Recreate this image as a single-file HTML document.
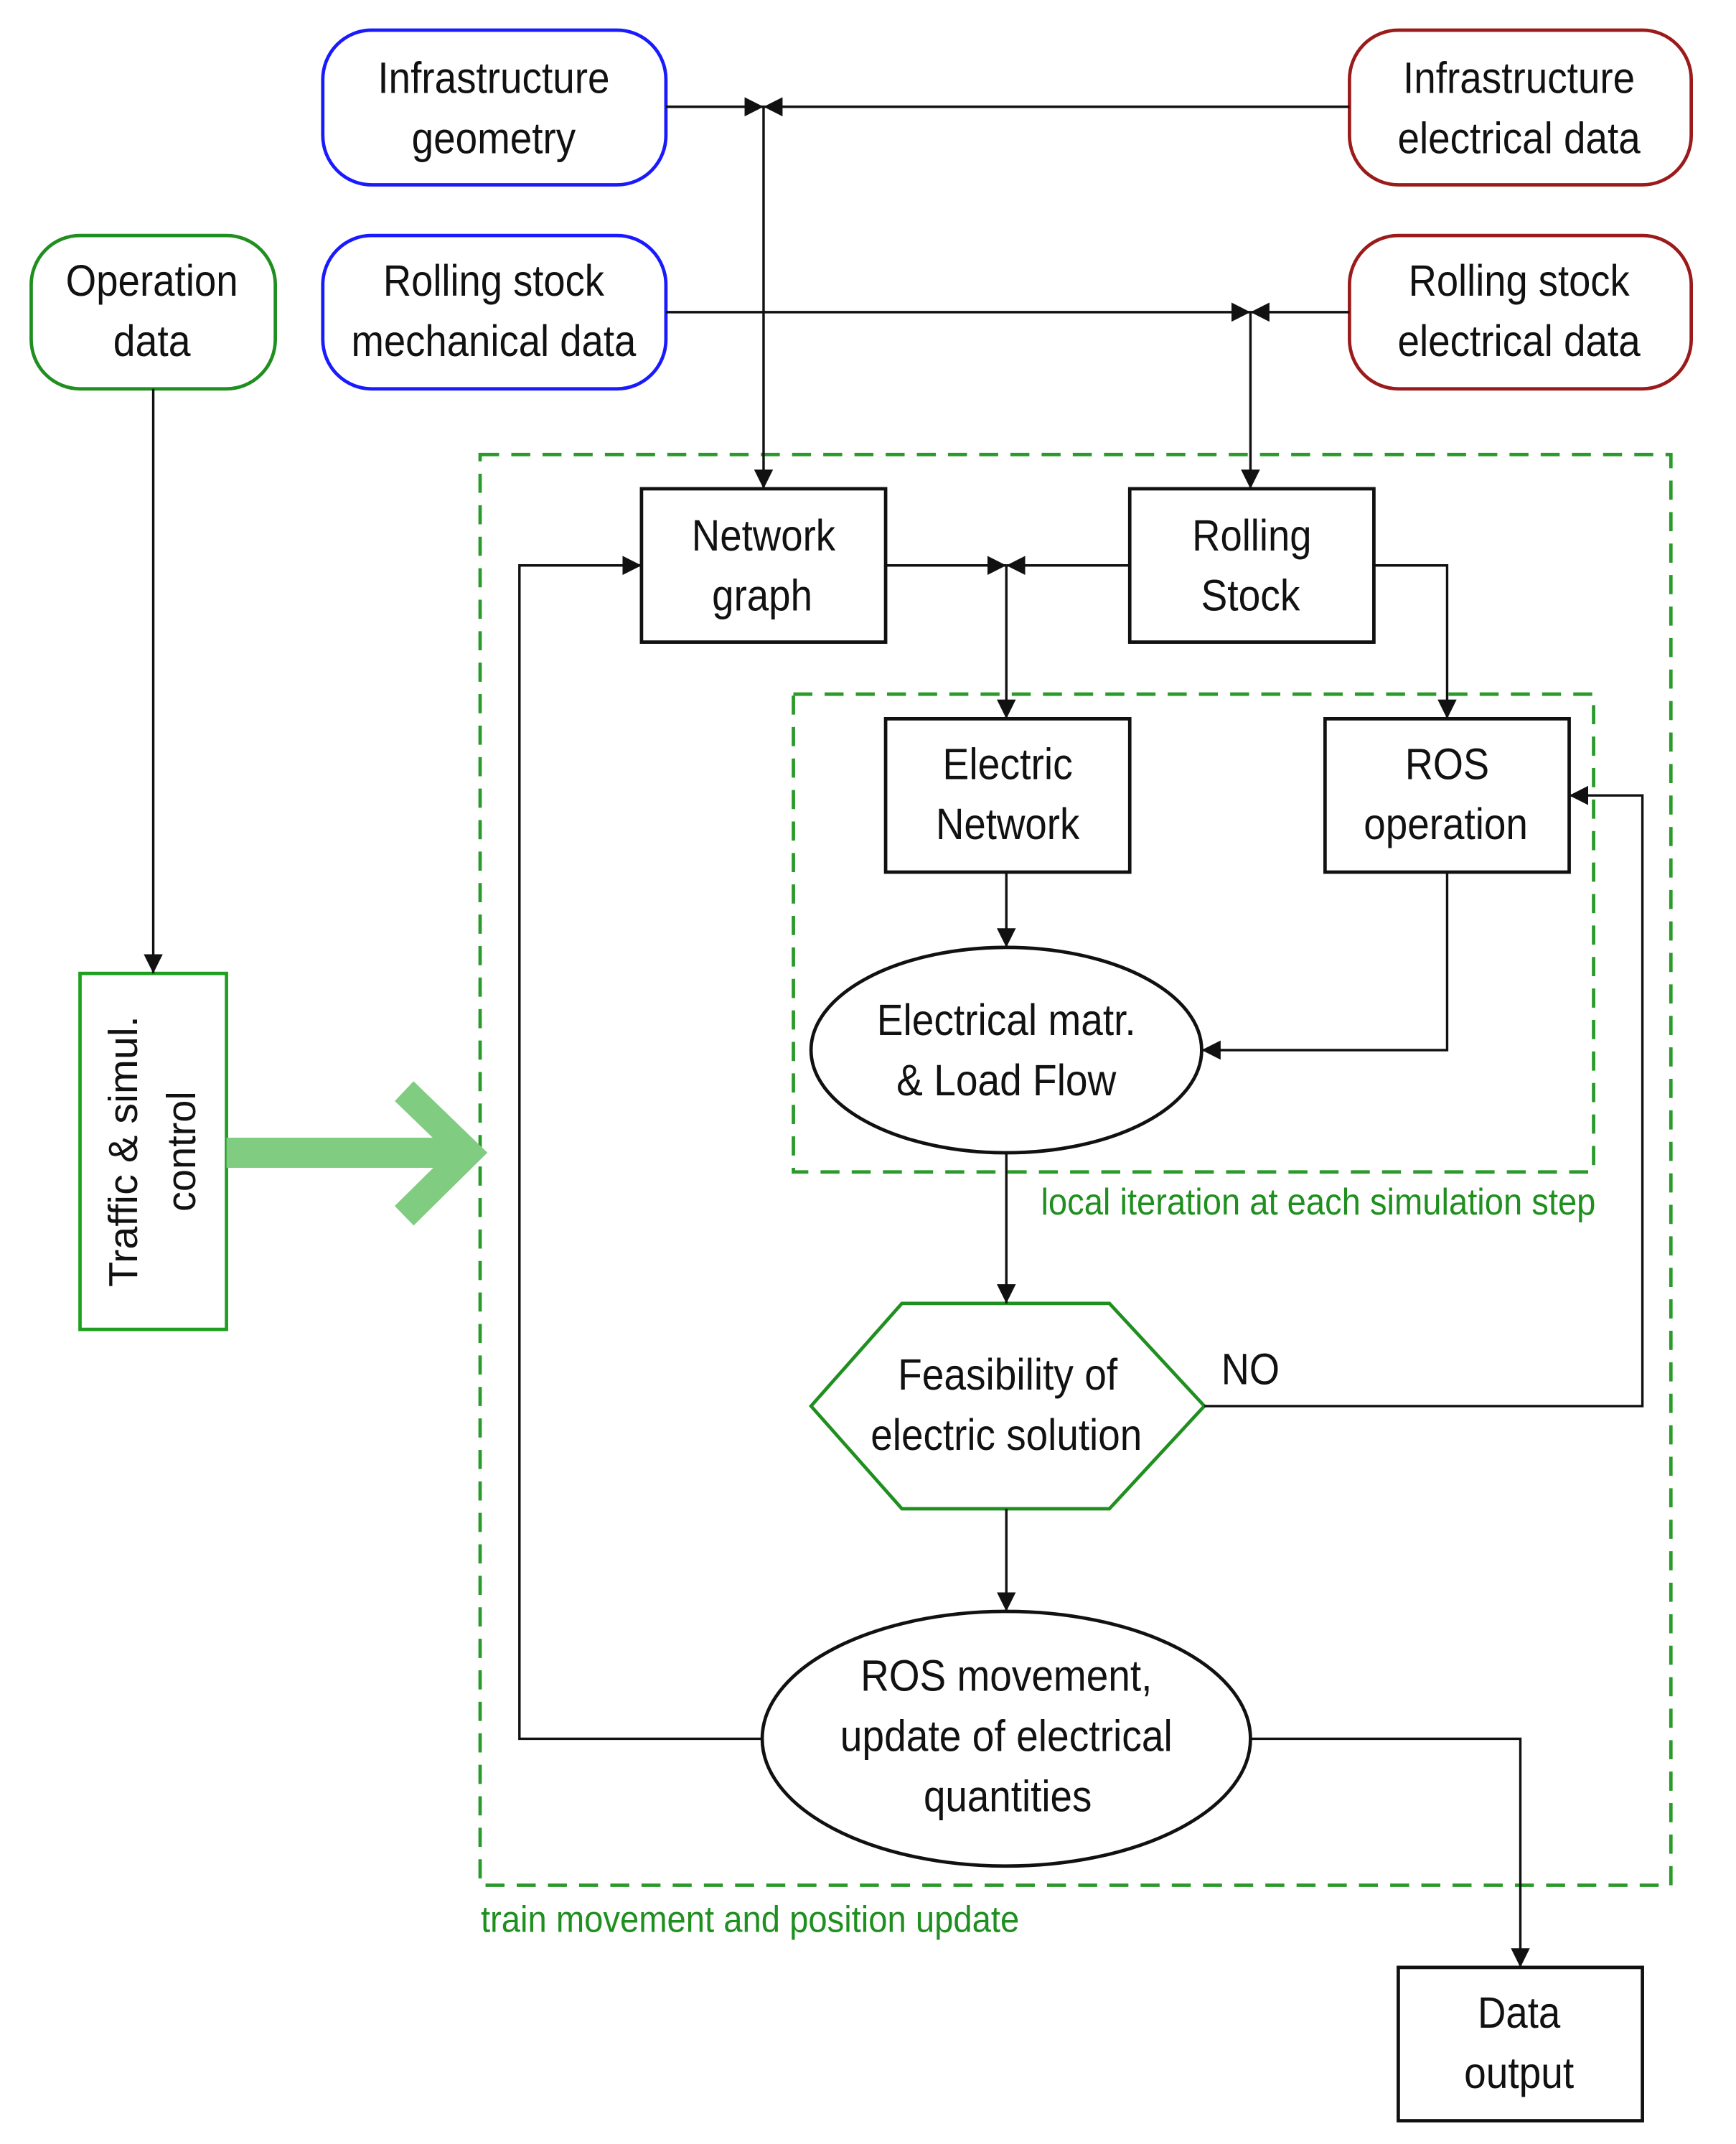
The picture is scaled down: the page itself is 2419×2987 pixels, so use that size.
<!DOCTYPE html>
<html><head><meta charset="utf-8"><style>html,body{margin:0;padding:0;background:#fff}svg{display:block}text{font-family:"Liberation Sans Narrow","Liberation Sans",sans-serif;font-size:32px;fill:#111;text-anchor:middle}</style></head>
<body>
<svg width="2419" height="2987" viewBox="0 0 1280 1566" preserveAspectRatio="none" xmlns="http://www.w3.org/2000/svg">
<defs>
<marker id="a" viewBox="0 0 10 10" refX="10" refY="5" markerWidth="14" markerHeight="14" markerUnits="userSpaceOnUse" orient="auto"><path d="M0,0L10,5L0,10z" fill="#111"/></marker>
</defs>
<g fill="none" stroke-width="2.5">
<rect x="238" y="22" width="253" height="113" rx="36" stroke="#1a1aff"/>
<rect x="238" y="172" width="253" height="112" rx="36" stroke="#1a1aff"/>
<rect x="995" y="22" width="252" height="113" rx="36" stroke="#9b1b1b"/>
<rect x="995" y="172" width="252" height="112" rx="36" stroke="#9b1b1b"/>
<rect x="23" y="172" width="180" height="112" rx="36" stroke="#1f8f1f"/>
<rect x="59" y="711" width="108" height="260" stroke="#1f9f1f"/>
<rect x="354" y="332" width="878" height="1045" stroke="#2a9a2a" stroke-dasharray="14,9"/>
<rect x="585" y="507" width="590" height="349" stroke="#2a9a2a" stroke-dasharray="14,9"/>
<rect x="473" y="357" width="180" height="112" stroke="#111"/>
<rect x="833" y="357" width="180" height="112" stroke="#111"/>
<rect x="653" y="525" width="180" height="112" stroke="#111"/>
<rect x="977" y="525" width="180" height="112" stroke="#111"/>
<rect x="1031" y="1437" width="180" height="112" stroke="#111"/>
<ellipse cx="742" cy="767" rx="144" ry="75" stroke="#111"/>
<ellipse cx="742" cy="1270" rx="180" ry="93" stroke="#111"/>
<polygon points="598,1027 665,952 818,952 888,1027 818,1102 665,1102" stroke="#1f8f1f"/>
</g>
<g fill="none" stroke="#111" stroke-width="1.8">
<path d="M491,78H563" marker-end="url(#a)"/>
<path d="M995,78H563" marker-end="url(#a)"/>
<path d="M563,78V357" marker-end="url(#a)"/>
<path d="M491,228H922" marker-end="url(#a)"/>
<path d="M995,228H922" marker-end="url(#a)"/>
<path d="M922,228V357" marker-end="url(#a)"/>
<path d="M653,413H742" marker-end="url(#a)"/>
<path d="M833,413H742" marker-end="url(#a)"/>
<path d="M742,413V525" marker-end="url(#a)"/>
<path d="M1013,413H1067V525" marker-end="url(#a)"/>
<path d="M742,637V692" marker-end="url(#a)"/>
<path d="M1067,637V767H886" marker-end="url(#a)"/>
<path d="M742,842V952" marker-end="url(#a)"/>
<path d="M888,1027H1211V581H1157" marker-end="url(#a)"/>
<path d="M742,1102V1177" marker-end="url(#a)"/>
<path d="M562,1270H383V413H473" marker-end="url(#a)"/>
<path d="M922,1270H1121V1437" marker-end="url(#a)"/>
<path d="M113,284V711" marker-end="url(#a)"/>
</g>
<path d="M167,842H345" stroke="#80cc80" stroke-width="22" fill="none"/>
<path d="M298,797L345,842L298,888" stroke="#80cc80" stroke-width="20" fill="none"/>
<g lengthAdjust="spacingAndGlyphs">
<text x="364" y="68" textLength="171" lengthAdjust="spacingAndGlyphs">Infrastructure</text>
<text x="364" y="112" textLength="121" lengthAdjust="spacingAndGlyphs">geometry</text>
<text x="1120" y="68" textLength="171" lengthAdjust="spacingAndGlyphs">Infrastructure</text>
<text x="1120" y="112" textLength="179" lengthAdjust="spacingAndGlyphs">electrical data</text>
<text x="112" y="216" textLength="127" lengthAdjust="spacingAndGlyphs">Operation</text>
<text x="112" y="260" textLength="57" lengthAdjust="spacingAndGlyphs">data</text>
<text x="364" y="216" textLength="163" lengthAdjust="spacingAndGlyphs">Rolling stock</text>
<text x="364" y="260" textLength="210" lengthAdjust="spacingAndGlyphs">mechanical data</text>
<text x="1120" y="216" textLength="163" lengthAdjust="spacingAndGlyphs">Rolling stock</text>
<text x="1120" y="260" textLength="179" lengthAdjust="spacingAndGlyphs">electrical data</text>
<text x="563" y="402" textLength="106" lengthAdjust="spacingAndGlyphs">Network</text>
<text x="562" y="446" textLength="74" lengthAdjust="spacingAndGlyphs">graph</text>
<text x="923" y="402" textLength="88" lengthAdjust="spacingAndGlyphs">Rolling</text>
<text x="922" y="446" textLength="73" lengthAdjust="spacingAndGlyphs">Stock</text>
<text x="743" y="569" textLength="96" lengthAdjust="spacingAndGlyphs">Electric</text>
<text x="743" y="613" textLength="106" lengthAdjust="spacingAndGlyphs">Network</text>
<text x="1067" y="569" textLength="62" lengthAdjust="spacingAndGlyphs">ROS</text>
<text x="1066" y="613" textLength="121" lengthAdjust="spacingAndGlyphs">operation</text>
<text x="742" y="756" textLength="191" lengthAdjust="spacingAndGlyphs">Electrical matr.</text>
<text x="742" y="800" textLength="162" lengthAdjust="spacingAndGlyphs">&amp; Load Flow</text>
<text x="743" y="1015" textLength="162" lengthAdjust="spacingAndGlyphs">Feasibility of</text>
<text x="742" y="1059" textLength="200" lengthAdjust="spacingAndGlyphs">electric solution</text>
<text x="922" y="1011" textLength="43" lengthAdjust="spacingAndGlyphs">NO</text>
<text x="742" y="1235" textLength="215" lengthAdjust="spacingAndGlyphs">ROS movement,</text>
<text x="742" y="1279" textLength="245" lengthAdjust="spacingAndGlyphs">update of electrical</text>
<text x="743" y="1323" textLength="124" lengthAdjust="spacingAndGlyphs">quantities</text>
<text x="1120" y="1481" textLength="61" lengthAdjust="spacingAndGlyphs">Data</text>
<text x="1120" y="1525" textLength="81" lengthAdjust="spacingAndGlyphs">output</text>
<text x="972" y="887" style="font-size:27px;fill:#1f8f1f" textLength="409" lengthAdjust="spacingAndGlyphs">local iteration at each simulation step</text>
<text x="553" y="1411" style="font-size:27px;fill:#1f8f1f" textLength="397" lengthAdjust="spacingAndGlyphs">train movement and position update</text>
<text transform="translate(101,841) rotate(-90)" style="font-family:'Liberation Sans',sans-serif;font-size:30px" textLength="198" lengthAdjust="spacingAndGlyphs">Traffic &amp; simul.</text>
<text transform="translate(144,841) rotate(-90)" style="font-family:'Liberation Sans',sans-serif;font-size:30px" textLength="88" lengthAdjust="spacingAndGlyphs">control</text>
</g>
</svg>
</body></html>
